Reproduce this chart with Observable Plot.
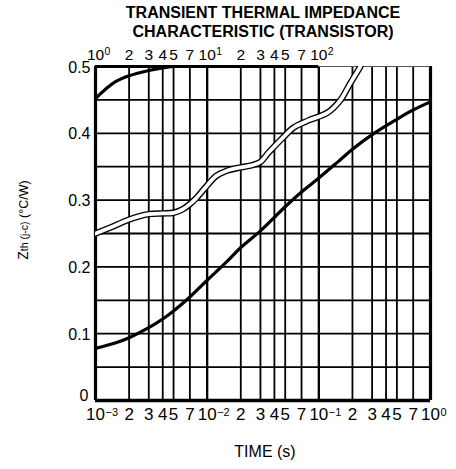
<!DOCTYPE html>
<html><head><meta charset="utf-8">
<script src="https://cdn.jsdelivr.net/npm/d3@7"></script>
<script src="https://cdn.jsdelivr.net/npm/@observablehq/plot@0.6"></script>
<style>html,body{margin:0;padding:0;background:#fff} svg{display:block}</style>
</head><body><div id="chart"></div>
<script>
// Main curve: time (s, bottom axis) vs Zth
const mainTime = [0.001,0.0015,0.002,0.003,0.004,0.005,0.007,0.01,0.015,0.02,0.03,0.05,0.07,0.1,0.15,0.2,0.3,0.5,0.7,1];
const mainZth  = [0.078,0.086,0.094,0.109,0.122,0.134,0.155,0.180,0.208,0.229,0.254,0.290,0.312,0.333,0.358,0.376,0.398,0.421,0.435,0.447];
// Continuation of main curve read on the top axis (s)
const longTime = [1,1.25,1.5,2,3,4,5,6];
const longZth  = [0.452,0.467,0.477,0.486,0.494,0.498,0.5,0.5];
// Hollow (double-outlined) curve, bottom axis
const hollowTime = [0.001,0.0015,0.002,0.003,0.004,0.005,0.006,0.007,0.008,0.01,0.012,0.015,0.02,0.025,0.03,0.035,0.048,0.06,0.08,0.12,0.155,0.19,0.235,0.26];
const hollowZth  = [0.250,0.262,0.271,0.279,0.280,0.281,0.286,0.294,0.303,0.322,0.336,0.344,0.349,0.352,0.357,0.370,0.394,0.409,0.419,0.431,0.449,0.474,0.5,0.515];

// Grid and tick labels
const gridMinorX = [0.002,0.003,0.004,0.005,0.007,0.02,0.03,0.04,0.05,0.07,0.2,0.3,0.4,0.5,0.7];
const gridDecadeX = [0.001,0.01,0.1,1];
const gridY = [0.05,0.1,0.15,0.2,0.25,0.3,0.35,0.4,0.45];
const yTicks = [0.1,0.2,0.3,0.4,0.5];
const yTickLabels = ["0.1","0.2","0.3","0.4","0.5"];
const yZeroTick = [0];
const yZeroLabel = ["0"];
const bottomDigitTicks = [0.002,0.003,0.004,0.005,0.007,0.02,0.03,0.04,0.05,0.07,0.2,0.3,0.4,0.5,0.7];
const bottomDigitLabels = ["2","3","4","5","7","2","3","4","5","7","2","3","4","5","7"];
const bottomDecades = [0.001,0.01,0.1,1];
const bottomExp = ["\u22123","\u22122","\u22121","0"];
const topDigitTicks = [2,3,4,5,7,20,30,40,50,70];
const topDigitLabels = ["2","3","4","5","7","2","3","4","5","7"];
const topDecades = [1,10,100];
const topExp = ["0","1","2"];
const topScale = 1e-3; // top axis (s) sits three decades above the bottom axis

const main = mainTime.map((t,i)=>({t, z:mainZth[i]}));
const long = longTime.map((t,i)=>({t:t*topScale, z:longZth[i]}));
const hollow = hollowTime.map((t,i)=>({t, z:hollowZth[i]}));

const font = "'Liberation Sans', Arial, Helvetica, sans-serif";

const plot = Plot.plot({
  width: 456, height: 469,
  marginLeft: 95, marginRight: 26, marginTop: 66, marginBottom: 69,
  x: {type: "log", domain: [0.001, 1], axis: null},
  y: {domain: [0, 0.5], axis: null},
  style: {fontFamily: font, background: "#fff", color: "#000"},
  marks: [
    Plot.ruleX(gridMinorX, {x: d=>d, stroke: "#000", strokeWidth: 1.8}),
    Plot.ruleX(gridDecadeX, {x: d=>d, stroke: "#000", strokeWidth: 2.3}),
    Plot.ruleY(gridY, {y: d=>d, stroke: "#000", strokeWidth: 1.8}),
    // frame
    Plot.ruleX([0.001, 1], {x: d=>d, stroke: "#000", strokeWidth: 3.2}),
    Plot.ruleY([0], {y: d=>d, stroke: "#000", strokeWidth: 3.4}),
    Plot.ruleY([{y:0.5, x1:0.001, x2:0.1}], {y:"y", x1:"x1", x2:"x2", stroke:"#000", strokeWidth:3.2}),
    Plot.ruleY([{y:0.5, x1:0.1, x2:1}], {y:"y", x1:"x1", x2:"x2", stroke:"#555", strokeWidth:1.2}),
    // hollow curve
    Plot.line(hollow, {x:"t", y:"z", stroke:"#000", strokeWidth:6.5, curve:"catmull-rom", clip:true}),
    Plot.line(hollow, {x:"t", y:"z", stroke:"#fff", strokeWidth:3.8, curve:"catmull-rom", clip:true}),
    // solid curve
    Plot.line(main, {x:"t", y:"z", stroke:"#000", strokeWidth:3.2, curve:"catmull-rom"}),
    Plot.line(long, {x:"t", y:"z", stroke:"#000", strokeWidth:3.2, curve:"catmull-rom", clip:true}),
    // y tick labels
    Plot.text(yTicks, {y: d=>d, text: (d,i)=>yTickLabels[i], frameAnchor:"left", lineAnchor:"middle", textAnchor:"end", dx:-5, dy:1, fontSize:16, fill:"#000"}),
    Plot.text(yZeroTick, {y: d=>d, text: (d,i)=>yZeroLabel[i], frameAnchor:"left", lineAnchor:"middle", textAnchor:"end", dx:-7, dy:-5, fontSize:16, fill:"#000"}),
    // bottom tick labels
    Plot.text(bottomDigitTicks, {x: d=>d, text: (d,i)=>bottomDigitLabels[i], frameAnchor:"bottom", lineAnchor:"middle", dy:14.5, fontSize:17, fill:"#000"}),
    Plot.text(bottomDecades, {x: d=>d, text: ()=>"10", frameAnchor:"bottom", lineAnchor:"middle", dy:14.5, fontSize:17, fill:"#000"}),
    Plot.text(bottomDecades, {x: d=>d, text: (d,i)=>bottomExp[i], frameAnchor:"bottom", lineAnchor:"middle", textAnchor:"start", dx:10, dy:12, fontSize:11, fill:"#000"}),
    // top tick labels
    Plot.text(topDigitTicks, {x: d=>d*topScale, text: (d,i)=>topDigitLabels[i], frameAnchor:"top", lineAnchor:"middle", dy:-11.5, fontSize:15.5, fill:"#000"}),
    Plot.text(topDecades, {x: d=>d*topScale, text: ()=>"10", frameAnchor:"top", lineAnchor:"middle", dy:-11.5, fontSize:15.5, fill:"#000"}),
    Plot.text(topDecades, {x: d=>d*topScale, text: (d,i)=>topExp[i], frameAnchor:"top", lineAnchor:"middle", textAnchor:"start", dx:9, dy:-14.5, fontSize:10.5, fill:"#000"}),
    // titles
    Plot.text(["TRANSIENT THERMAL IMPEDANCE"], {text: d=>d, frameAnchor:"top", lineAnchor:"middle", dy:-53.5, fontSize:16, fontWeight:"bold", fill:"#000", ariaLabel:"title1"}),
    Plot.text(["CHARACTERISTIC (TRANSISTOR)"], {text: d=>d, frameAnchor:"top", lineAnchor:"middle", dy:-35, fontSize:16, fontWeight:"bold", fill:"#000", ariaLabel:"title2"}),
    Plot.text(["TIME (s)"], {text: d=>d, frameAnchor:"bottom", lineAnchor:"middle", dx:2, dy:51.5, fontSize:16, fill:"#000", ariaLabel:"xtitle"})
  ]
});

const svg = d3.select(plot);
svg.select('g[aria-label="title1"] text').attr("textLength", 325).attr("lengthAdjust", "spacingAndGlyphs");
svg.select('g[aria-label="title2"] text').attr("textLength", 303).attr("lengthAdjust", "spacingAndGlyphs");
svg.select('g[aria-label="xtitle"] text').attr("textLength", 65).attr("lengthAdjust", "spacingAndGlyphs");

// y-axis title with smaller "th (j-c)" part
const yt = svg.append("text")
  .attr("transform", "translate(28,220) rotate(-90)")
  .attr("text-anchor", "middle")
  .attr("fill", "#000")
  .attr("font-family", font);
yt.append("tspan").attr("font-size", 14).text("Z");
yt.append("tspan").attr("font-size", 10.5).text("th (j-c)");
yt.append("tspan").attr("font-size", 12.5).text(" (\u00B0C/W)");

document.getElementById("chart").appendChild(plot);
</script>
</body></html>
